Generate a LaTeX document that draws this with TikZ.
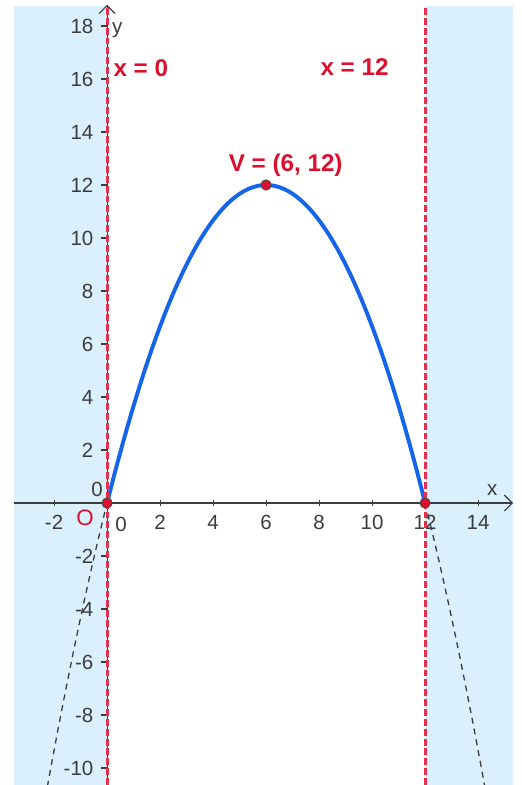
\documentclass[tikz,border=0pt]{standalone}
\usepackage{fontspec}
\setmainfont{Liberation Sans}
\usetikzlibrary{arrows.meta}
\definecolor{halfplane}{HTML}{DAF0FC}
\definecolor{parab}{HTML}{1565E8}
\definecolor{bound}{HTML}{E62E4D}
\definecolor{lbl}{HTML}{D9102E}
\definecolor{axisc}{HTML}{3C3C3C}

\begin{document}
\begin{tikzpicture}[
    x=0.5cm, y=0.5cm,
    axis/.style={axisc, line width=0.6pt, -{Straight Barb[length=1.5mm, width=3mm]}},
    tickmark/.style={axisc, line width=0.6pt},
    tick/.style={font=\fontsize{11}{13}\selectfont, text=axisc, inner sep=1.5pt},
    asym/.style={bound, line width=1.6pt, dash pattern=on 3.7pt off 1.6pt},
    branch/.style={axisc, line width=0.7pt, dash pattern=on 3.2pt off 2.7pt},
    pt/.style={circle, fill=lbl, draw=black!70, line width=0.5pt, inner sep=0pt, minimum size=5.5pt},
    tag/.style={text=lbl, inner sep=0pt, font=\bfseries\fontsize{13}{15}\selectfont}
  ]
  \useasboundingbox (-4.04,-10.64) rectangle (15.62,18.98);
  % shaded regions outside 0 <= x <= 12
  \fill[halfplane] (-3.51,-10.64) rectangle (0,18.75);
  \fill[halfplane] (12,-10.64) rectangle (15.32,18.75);

  % axes
  \coordinate (xl) at (-3.51,0);
  \coordinate (xr) at (15.32,0);
  \coordinate (yb) at (0,-10.64);
  \coordinate (yt) at (0,18.8);
  \draw[axis] (xl) -- (xr);
  \draw[axis] (yb) -- (yt);
  \foreach \x in {-2,2,4,...,14} {
    \draw[tickmark] (\x,-0.12) -- (\x,0.12);
    \node[tick, anchor=north] (xt\x) at (\x,-0.35) {\x};
  }
  \foreach \y in {-10,-8,...,-2,2,4,...,18} {
    \draw[tickmark] (-0.22,\y) -- (0,\y);
    \node[tick, anchor=east] (yt\y) at (-0.4,\y) {\y};
  }
  \node[tick] (x0) at (0.53,-0.8) {0};
  \node[tick] (y0) at (-0.38,0.5) {0};
  \node[tick] (xlab) at (14.53,0.5) {x};
  \node[tick] (ylab) at (0.38,17.85) {y};

  % parabola y = 4x - x^2/3
  \begin{scope}
    \clip (-3.51,-10.64) rectangle (15.32,18.75);
    \draw[branch] plot[domain=-2.4:0, samples=30] (\x,{4*\x-\x*\x/3});
    \draw[branch] plot[domain=12:14.4, samples=30] (\x,{4*\x-\x*\x/3});
  \end{scope}
  \draw[parab, line width=2.1pt] plot[domain=0:12, samples=80] (\x,{4*\x-\x*\x/3});

  % boundary lines
  \coordinate (l0) at (0,-10.64);
  \coordinate (u0) at (0,18.75);
  \coordinate (l12) at (12,-10.64);
  \coordinate (u12) at (12,18.75);
  \draw[asym] (l0) -- (u0);
  \draw[asym] (l12) -- (u12);

  % points and labels
  \node[pt] (O) at (0,0) {};
  \node[pt] (A) at (12,0) {};
  \node[pt] (V) at (6,12) {};
  \node[text=lbl, font=\fontsize{12}{14}\selectfont] (Olab) at (-0.83,-0.57) {O};
  \node[tag] (Vlab) at (6.74,12.75) {V = (6, 12)};
  \node[tag, anchor=west] (b0) at (0.23,16.42) {x = 0};
  \node[tag, anchor=west] (b12) at (8.04,16.45) {x = 12};
\end{tikzpicture}
\end{document}
